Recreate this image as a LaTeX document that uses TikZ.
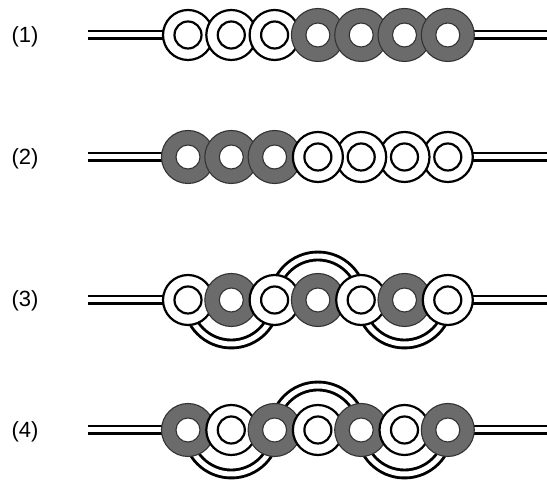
\documentclass[tikz,border=0pt]{standalone}
\usepackage{fontspec}
\setmainfont{Liberation Sans}
\definecolor{ringgray}{gray}{0.42}
\tikzset{
  wire/.style={draw=black, line width=2.9pt, double=white, double distance=5pt},
  wring/.style={fill=white, draw=black, line width=2.2pt},
  dring/.style={fill=ringgray, draw=black!80, line width=1.1pt},
  dhole/.style={fill=white, draw=black!80, line width=1.1pt},
  lbl/.style={font=\fontsize{22}{26}\selectfont, inner sep=0pt}
}
\newcommand{\whiteRing}[1]{%
  \draw[wring] (#1) circle[radius=25pt];
  \draw[black, line width=2.2pt] (#1) circle[radius=13.5pt];}
\newcommand{\darkRing}[1]{%
  \draw[dring] (#1) circle[radius=26.5pt];
  \draw[dhole] (#1) circle[radius=12pt];}
\begin{document}
\begin{tikzpicture}[x=1pt,y=1pt]
\useasboundingbox (0,0) rectangle (547,481);
\fill[white] (0,0) rectangle (547,481);
% centres
\foreach \r/\y in {1/446,2/324,3/181,4/51}{
  \coordinate (wL\r) at (88,\y);
  \coordinate (wR\r) at (547,\y);
  \foreach \i in {1,...,7}{
    \coordinate (c\r\i) at ({188+43.3*(\i-1)},\y);
  }
}
% labels
\node[lbl] (l1) at (25,444) {(1)};
\node[lbl] (l2) at (25,322) {(2)};
\node[lbl] (l3) at (25,180) {(3)};
\node[lbl] (l4) at (25,49) {(4)};
% row 1
\draw[wire] (wL1) -- (wR1);
\whiteRing{c11}\whiteRing{c12}\whiteRing{c13}
\darkRing{c14}\darkRing{c15}\darkRing{c16}\darkRing{c17}
% row 2
\draw[wire] (wL2) -- (wR2);
\darkRing{c21}\darkRing{c22}\darkRing{c23}
\whiteRing{c27}\whiteRing{c26}\whiteRing{c25}\whiteRing{c24}
% row 3
\draw[wire] (wL3) -- (wR3);
\draw[wire] ([shift={(0:44pt)}]c32) arc[start angle=0, end angle=-180, radius=44pt];
\draw[wire] ([shift={(180:44pt)}]c34) arc[start angle=180, end angle=0, radius=44pt];
\draw[wire] ([shift={(0:44pt)}]c36) arc[start angle=0, end angle=-180, radius=44pt];
\whiteRing{c31}\darkRing{c32}\whiteRing{c33}\darkRing{c34}\whiteRing{c35}\darkRing{c36}\whiteRing{c37}
% row 4
\draw[wire] (wL4) -- (wR4);
\draw[wire] ([shift={(0:44pt)}]c42) arc[start angle=0, end angle=-180, radius=44pt];
\draw[wire] ([shift={(180:44pt)}]c44) arc[start angle=180, end angle=0, radius=44pt];
\draw[wire] ([shift={(0:44pt)}]c46) arc[start angle=0, end angle=-180, radius=44pt];
\darkRing{c41}\whiteRing{c42}\darkRing{c43}\whiteRing{c44}\darkRing{c45}\whiteRing{c46}\darkRing{c47}
\end{tikzpicture}
\end{document}
